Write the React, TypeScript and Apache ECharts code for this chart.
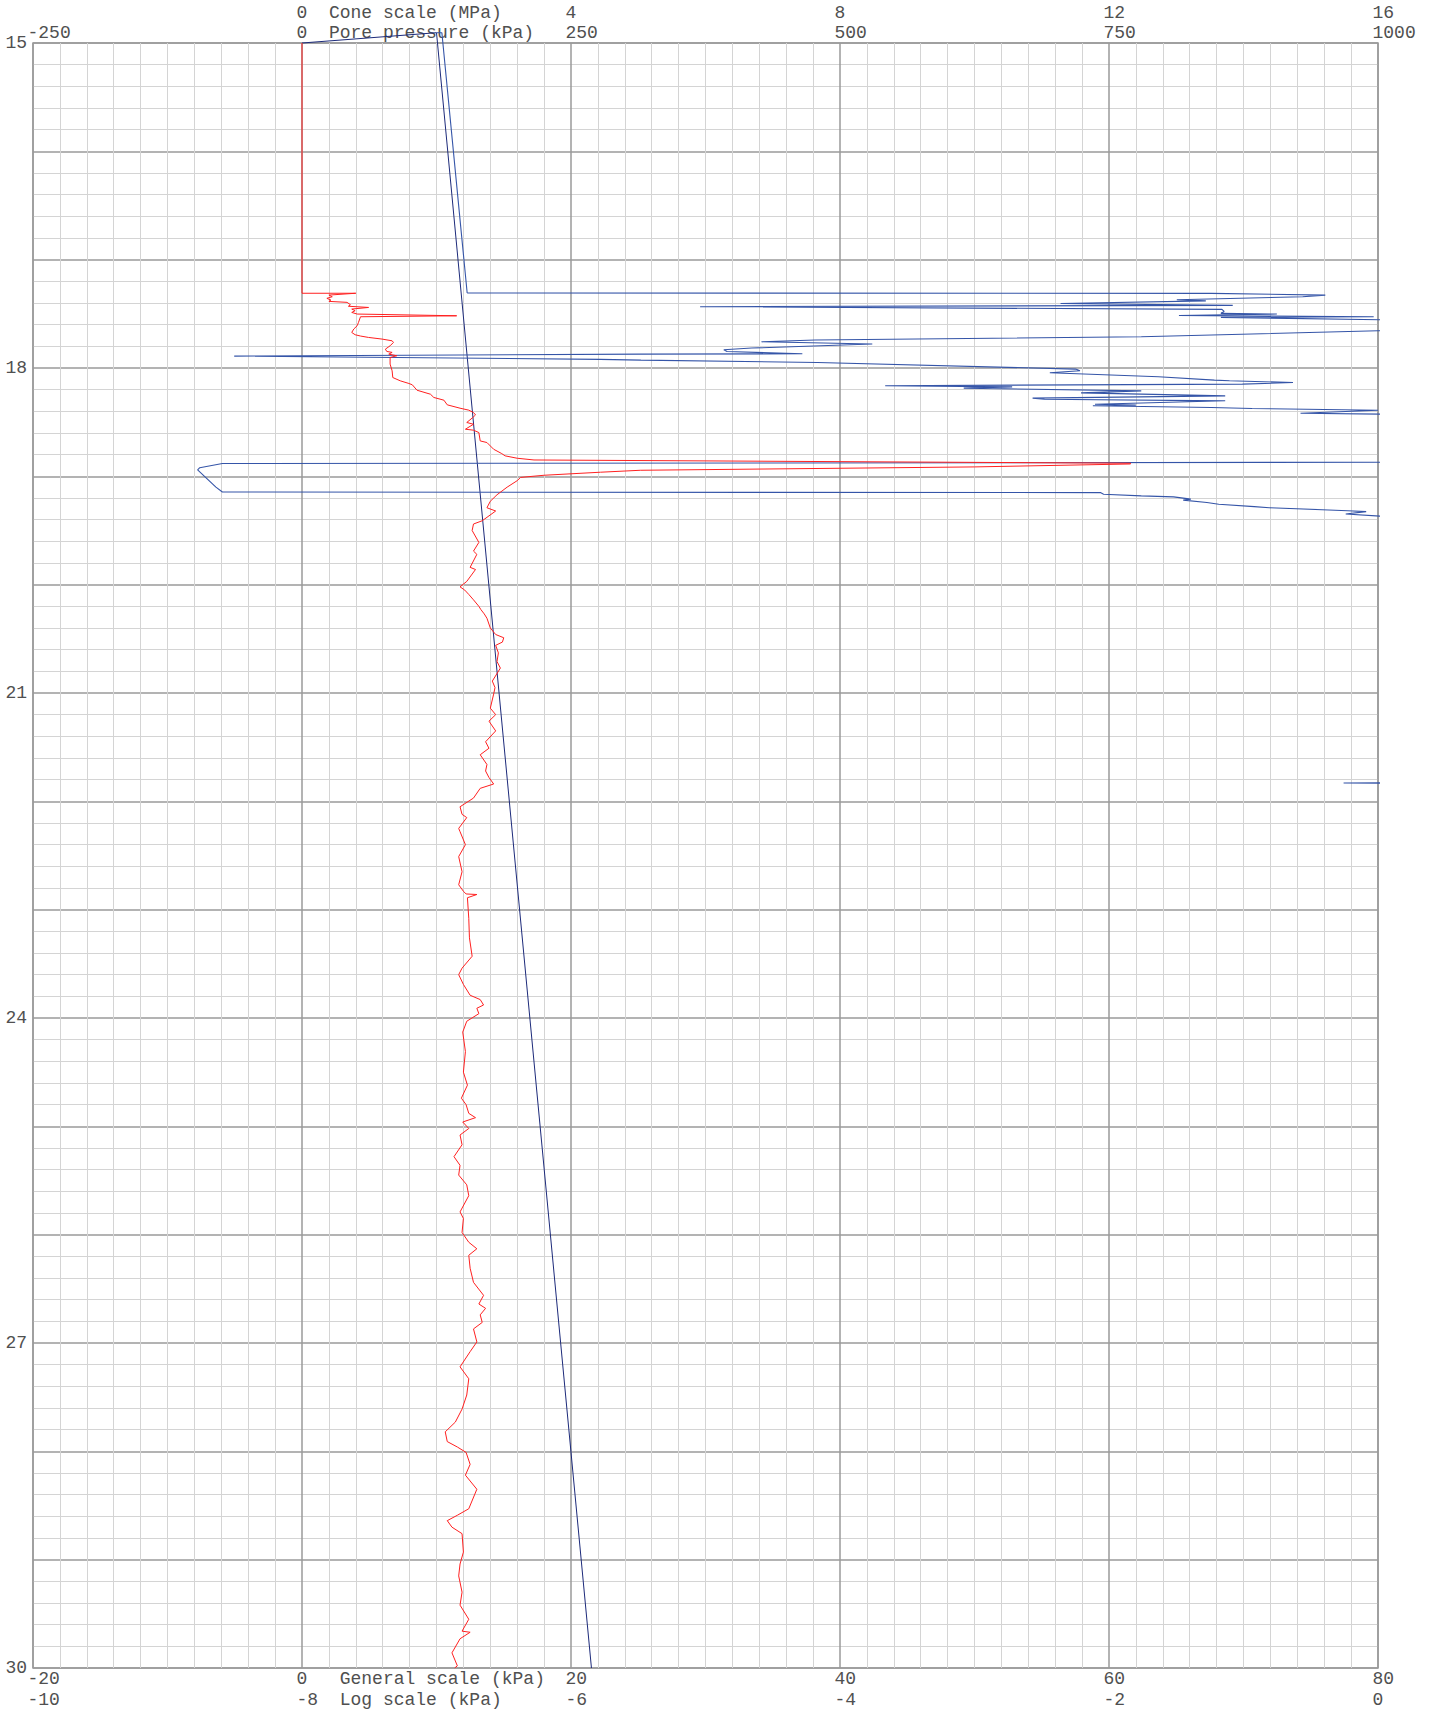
import { useEffect, useRef } from "react";
import * as echarts from "echarts";

const FONT = "Liberation Mono";

// Tick label values
const coneTicks = [0, 4, 8, 12, 16];
const poreTicks = [-250, 0, 250, 500, 750, 1000];
const generalTicks = [-20, 0, 20, 40, 60, 80];
const logTicks = [-10, -8, -6, -4, -2, 0];
const depthLabels = [15, 18, 21, 24, 27, 30];

// Cone resistance (MPa, depth m)
const coneResistance: [number, number][] = [
  [0, 15.0], [0, 17.31], [0.8, 17.31], [0.4, 17.327], [0.45, 17.342], [0.37, 17.357], [0.43, 17.373],
  [0.4, 17.385], [0.67, 17.394], [0.72, 17.416], [0.69, 17.43], [0.99, 17.441], [0.74, 17.456],
  [0.79, 17.471], [0.74, 17.487], [0.82, 17.502], [2.3, 17.518], [0.87, 17.527], [0.84, 17.579],
  [0.82, 17.61], [0.77, 17.64], [0.74, 17.672], [0.79, 17.693], [0.87, 17.705], [0.99, 17.718],
  [1.19, 17.733], [1.34, 17.749], [1.36, 17.764], [1.31, 17.795], [1.24, 17.826], [1.26, 17.847],
  [1.34, 17.856], [1.29, 17.872], [1.41, 17.887], [1.31, 17.903], [1.31, 17.964], [1.34, 18.026],
  [1.35, 18.088], [1.46, 18.118], [1.59, 18.143], [1.64, 18.155], [1.71, 18.205], [1.91, 18.242],
  [1.96, 18.272], [2.11, 18.297], [2.16, 18.34], [2.35, 18.371], [2.48, 18.389], [2.55, 18.411],
  [2.58, 18.433], [2.54, 18.457], [2.45, 18.503], [2.55, 18.519], [2.43, 18.565], [2.55, 18.574],
  [2.63, 18.596], [2.65, 18.673], [2.75, 18.688], [2.85, 18.75], [2.97, 18.79], [3.02, 18.811],
  [3.2, 18.833], [3.45, 18.849], [12.32, 18.879], [12.32, 18.886], [10.0, 18.913], [5.03, 18.944],
  [4.44, 18.962], [3.6, 18.99], [3.25, 19.01], [3.2, 19.04], [3.05, 19.1], [2.9, 19.17], [2.8, 19.23],
  [2.75, 19.29], [2.88, 19.32], [2.68, 19.41], [2.55, 19.44], [2.53, 19.5], [2.63, 19.61], [2.55, 19.69],
  [2.6, 19.72], [2.5, 19.84], [2.58, 19.86], [2.45, 19.97], [2.35, 20.02], [2.42, 20.05], [2.48, 20.09],
  [2.55, 20.14], [2.63, 20.2], [2.66, 20.23], [2.71, 20.27], [2.75, 20.31], [2.8, 20.4], [2.88, 20.46],
  [3.0, 20.49], [2.98, 20.53], [2.88, 20.56], [2.92, 20.63], [2.9, 20.71], [2.95, 20.77], [2.83, 20.89],
  [2.87, 20.95], [2.85, 21.01], [2.8, 21.14], [2.88, 21.2], [2.78, 21.26], [2.88, 21.35], [2.73, 21.45],
  [2.78, 21.51], [2.65, 21.57], [2.75, 21.66], [2.73, 21.72], [2.78, 21.78], [2.85, 21.84], [2.65, 21.88],
  [2.55, 21.97], [2.35, 22.05], [2.38, 22.12], [2.45, 22.15], [2.33, 22.25], [2.35, 22.28], [2.43, 22.4],
  [2.33, 22.51], [2.38, 22.65], [2.33, 22.77], [2.4, 22.83], [2.44, 22.855], [2.6, 22.86], [2.46, 22.89],
  [2.48, 23.08], [2.49, 23.26], [2.53, 23.43], [2.38, 23.54], [2.33, 23.6], [2.4, 23.69], [2.5, 23.79],
  [2.65, 23.83], [2.7, 23.88], [2.6, 23.91], [2.63, 23.96], [2.45, 24.03], [2.39, 24.13], [2.43, 24.31],
  [2.4, 24.5], [2.46, 24.62], [2.37, 24.74], [2.44, 24.8], [2.48, 24.88], [2.58, 24.92], [2.39, 24.96],
  [2.48, 25.02], [2.35, 25.08], [2.38, 25.17], [2.26, 25.28], [2.35, 25.36], [2.33, 25.45], [2.45, 25.54],
  [2.48, 25.64], [2.35, 25.79], [2.4, 25.85], [2.38, 25.98], [2.48, 26.07], [2.6, 26.13], [2.48, 26.19],
  [2.5, 26.31], [2.55, 26.44], [2.7, 26.56], [2.63, 26.64], [2.73, 26.68], [2.65, 26.74], [2.68, 26.81],
  [2.55, 26.87], [2.6, 26.99], [2.5, 27.08], [2.35, 27.22], [2.48, 27.33], [2.45, 27.48], [2.38, 27.61],
  [2.28, 27.73], [2.13, 27.82], [2.16, 27.91], [2.31, 27.96], [2.44, 28.01], [2.5, 28.12], [2.43, 28.22],
  [2.6, 28.35], [2.48, 28.53], [2.31, 28.59], [2.16, 28.64], [2.23, 28.7], [2.38, 28.76], [2.4, 28.93],
  [2.35, 29.04], [2.33, 29.15], [2.38, 29.3], [2.35, 29.42], [2.48, 29.55], [2.38, 29.66], [2.5, 29.67],
  [2.35, 29.73], [2.23, 29.86], [2.31, 29.98], [2.27, 30.0],
];

// Hydrostatic pore pressure (kPa, depth m)
const hydrostatic: [number, number][] = [[0, 15.0], [125, 14.905], [269, 30.0]];

// Measured pore pressure (kPa, depth m): head above the top line, then the rest
const poreHead: [number, number][] = [[125, 14.905], [130, 14.905], [153.5, 17.308]];
const porePressure: [number, number][] = [
  [153.5, 17.308], [845, 17.311], [951, 17.327], [930, 17.342], [813, 17.37], [840, 17.38], [705, 17.405],
  [865, 17.422], [370, 17.434], [855, 17.459], [857, 17.478], [854, 17.496], [906, 17.502], [815, 17.515],
  [996, 17.527], [854, 17.533], [1040, 17.56], [1040, 17.645], [1000, 17.656], [780, 17.712], [477, 17.742],
  [427, 17.758], [530, 17.779], [418, 17.816], [392, 17.832], [395, 17.847], [465, 17.869], [315, 17.872],
  [-63, 17.89], [277, 17.92], [315, 17.927], [479, 17.949], [719, 18.01], [723, 18.026], [695, 18.044],
  [796, 18.081], [848, 18.112], [862, 18.118], [921, 18.134], [874, 18.149], [542, 18.164], [660, 18.174],
  [615, 18.186], [780, 18.211], [724, 18.23], [858, 18.257], [679, 18.278], [690, 18.288], [858, 18.303],
  [737, 18.334], [775, 18.343], [735, 18.349], [845, 18.365], [883, 18.374], [1000, 18.39], [928, 18.417],
  [1040, 18.43], [1040, 18.87], [-74, 18.882], [-95, 18.92], [-97, 18.94], [-80, 19.1], [-74, 19.145],
  [742, 19.15], [745, 19.165], [780, 19.18], [810, 19.19], [826, 19.21], [819, 19.22], [841, 19.242],
  [852, 19.257], [885, 19.28], [899, 19.29], [972, 19.317], [989, 19.326], [970, 19.348], [1040, 19.39],
  [1040, 21.829], [968, 21.831], [1040, 21.833], [1040, 30.0],
];

const LABEL_COLOR = "#505050";
const MAJOR = "#9a9a9a";
const MINOR = "#d4d4d4";

const baseLabel = {
  fontFamily: FONT,
  fontSize: 18,
  lineHeight: 14,
  color: LABEL_COLOR,
};

const NB = "\u00a0";

export default function App() {
  const ref = useRef<HTMLDivElement>(null);

  useEffect(() => {
    if (!ref.current) return;
    const chart = echarts.init(ref.current, undefined, { renderer: "svg" });
    const hiddenAxisParts = {
      axisLine: { show: false, onZero: false },
      axisTick: { show: false },
      splitLine: { show: false },
    };
    const option: any = {
      animation: false,
      backgroundColor: "#ffffff",
      textStyle: { fontFamily: FONT },
      grid: {
        left: 33,
        top: 43,
        width: 1345,
        height: 1625,
        show: true,
        borderColor: MAJOR,
        borderWidth: 1.5,
        backgroundColor: "transparent",
        containLabel: false,
        outerBoundsMode: "none",
      },
      xAxis: [
        {
          type: "value",
          position: "top",
          min: -4,
          max: 16,
          interval: 4,
          ...hiddenAxisParts,
          axisLabel: {
            ...baseLabel,
            align: "left",
            margin: 23,
            padding: [0, 0, 0, -5.5],
            formatter: (v: number) =>
              v === 0 ? `0${NB}${NB}Cone scale (MPa)` : coneTicks.includes(v) ? String(v) : "",
          },
        },
        {
          type: "value",
          position: "top",
          min: -250,
          max: 1000,
          interval: 250,
          ...hiddenAxisParts,
          axisLabel: {
            ...baseLabel,
            align: "left",
            margin: 3,
            padding: [0, 0, 0, -5.5],
            formatter: (v: number) =>
              v === 0 ? `0${NB}${NB}Pore pressure (kPa)` : poreTicks.includes(v) ? String(v) : "",
          },
        },
        {
          type: "value",
          position: "bottom",
          min: -20,
          max: 80,
          interval: 20,
          axisLine: { show: false, onZero: false },
          axisTick: { show: false },
          minorTick: { show: false, splitNumber: 10 },
          splitLine: { show: true, lineStyle: { color: MAJOR, width: 1.5 } },
          minorSplitLine: { show: true, lineStyle: { color: MINOR, width: 1 } },
          axisLabel: {
            ...baseLabel,
            align: "left",
            margin: 4,
            padding: [0, 0, 0, -5.5],
            formatter: (v: number) =>
              v === 0
                ? `0${NB}${NB}${NB}General scale (kPa)`
                : generalTicks.includes(v)
                ? String(v)
                : "",
          },
        },
        {
          type: "value",
          position: "bottom",
          min: -10,
          max: 0,
          interval: 2,
          ...hiddenAxisParts,
          axisLabel: {
            ...baseLabel,
            align: "left",
            margin: 25,
            padding: [0, 0, 0, -5.5],
            formatter: (v: number) =>
              v === -8 ? `-8${NB}${NB}Log scale (kPa)` : logTicks.includes(v) ? String(v) : "",
          },
        },
      ],
      yAxis: [
        {
          type: "value",
          inverse: true,
          min: 15,
          max: 30,
          interval: 1,
          axisLine: { show: false, onZero: false },
          axisTick: { show: false },
          minorTick: { show: false, splitNumber: 5 },
          splitLine: { show: true, lineStyle: { color: MAJOR, width: 1.5 } },
          minorSplitLine: { show: true, lineStyle: { color: MINOR, width: 1 } },
          axisLabel: {
            ...baseLabel,
            margin: 6,
            padding: [0, 0, 7, 0],
            formatter: (v: number) => (depthLabels.includes(v) ? String(v) : ""),
          },
        },
      ],
      series: [
        {
          name: "Hydrostatic",
          type: "line",
          xAxisIndex: 1,
          yAxisIndex: 0,
          data: hydrostatic,
          showSymbol: false,
          symbol: "none",
          clip: false,
          lineStyle: { color: "#1c2a7a", width: 1 },
          z: 3,
        },
        {
          name: "Pore pressure head",
          type: "line",
          xAxisIndex: 1,
          yAxisIndex: 0,
          data: poreHead,
          showSymbol: false,
          symbol: "none",
          clip: false,
          lineStyle: { color: "#3555a8", width: 1.1 },
          z: 4,
        },
        {
          name: "Pore pressure",
          type: "line",
          xAxisIndex: 1,
          yAxisIndex: 0,
          data: porePressure,
          showSymbol: false,
          symbol: "none",
          clip: true,
          lineStyle: { color: "#3555a8", width: 1.1 },
          z: 4,
        },
        {
          name: "Cone resistance",
          type: "line",
          xAxisIndex: 0,
          yAxisIndex: 0,
          data: coneResistance,
          showSymbol: false,
          symbol: "none",
          clip: true,
          lineStyle: { color: "#ff2020", width: 1 },
          z: 5,
        },
      ],
    };
    chart.setOption(option);
    return () => chart.dispose();
  }, []);

  return (
    <div
      ref={ref}
      style={{ position: "absolute", left: 0, top: 0, width: 1433, height: 1711 }}
    />
  );
}
